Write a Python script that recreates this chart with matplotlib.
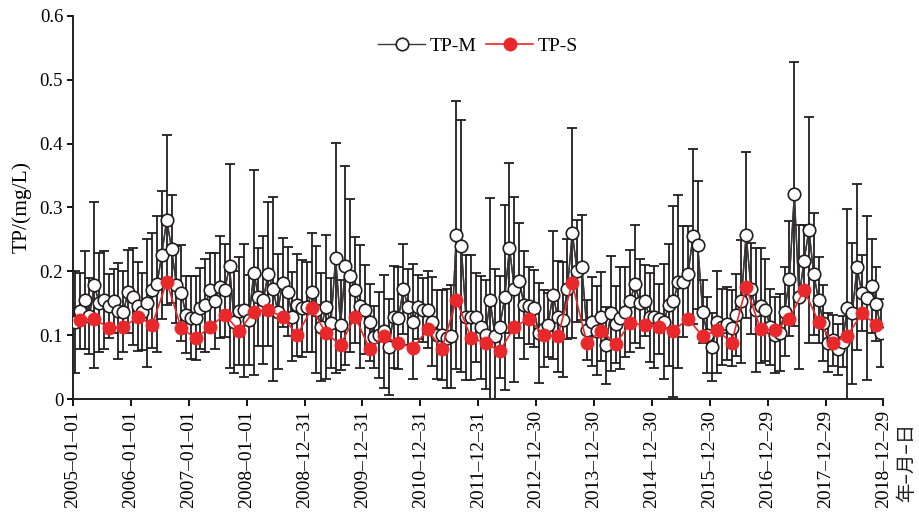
import numpy as np
import pandas as pd
import matplotlib
matplotlib.use("Agg")
import matplotlib.pyplot as plt
import matplotlib.dates as mdates
from matplotlib.ticker import FixedLocator, FuncFormatter

# ---------------- data ----------------
years = list(range(2005, 2019))

tp_m_mean = [
    0.121, 0.138, 0.155, 0.130, 0.178, 0.151, 0.155, 0.145, 0.153, 0.138, 0.137, 0.168,  # 2005
    0.160, 0.145, 0.137, 0.150, 0.170, 0.180, 0.226, 0.281, 0.235, 0.179, 0.166, 0.132,  # 2006
    0.127, 0.127, 0.142, 0.147, 0.170, 0.153, 0.176, 0.170, 0.208, 0.120, 0.138, 0.139,  # 2007
    0.124, 0.198, 0.160, 0.155, 0.196, 0.173, 0.137, 0.182, 0.168, 0.129, 0.147, 0.142,  # 2008
    0.144, 0.167, 0.140, 0.113, 0.144, 0.119, 0.221, 0.116, 0.209, 0.193, 0.170, 0.145,  # 2009
    0.140, 0.120, 0.097, 0.100, 0.106, 0.082, 0.129, 0.127, 0.172, 0.144, 0.121, 0.144,  # 2010
    0.140, 0.140, 0.121, 0.101, 0.100, 0.095, 0.098, 0.257, 0.240, 0.128, 0.128, 0.128,  # 2011
    0.112, 0.101, 0.155, 0.098, 0.113, 0.159, 0.237, 0.172, 0.185, 0.147, 0.146, 0.142,  # 2012
    0.103, 0.110, 0.116, 0.163, 0.129, 0.124, 0.172, 0.260, 0.200, 0.206, 0.108, 0.121,  # 2013
    0.107, 0.129, 0.084, 0.134, 0.117, 0.127, 0.136, 0.154, 0.180, 0.150, 0.154, 0.128,  # 2014
    0.129, 0.125, 0.121, 0.147, 0.153, 0.184, 0.184, 0.196, 0.255, 0.241, 0.137, 0.100,  # 2015
    0.081, 0.121, 0.113, 0.118, 0.111, 0.132, 0.153, 0.257, 0.173, 0.139, 0.146, 0.140,  # 2016
    0.113, 0.100, 0.104, 0.137, 0.188, 0.321, 0.160, 0.216, 0.265, 0.196, 0.155, 0.119,  # 2017
    0.088, 0.092, 0.078, 0.090, 0.142, 0.134, 0.206, 0.166, 0.158, 0.177, 0.149, 0.103,  # 2018
]

tp_m_sd = [
    0.080, 0.060, 0.077, 0.060, 0.130, 0.077, 0.077, 0.050, 0.050, 0.075, 0.063, 0.065,
    0.076, 0.070, 0.060, 0.100, 0.090, 0.106, 0.100, 0.133, 0.085, 0.060, 0.075, 0.060,
    0.065, 0.066, 0.063, 0.073, 0.058, 0.075, 0.080, 0.073, 0.160, 0.080, 0.085, 0.104,
    0.070, 0.160, 0.077, 0.100, 0.113, 0.144, 0.090, 0.070, 0.070, 0.070, 0.080, 0.076,
    0.070, 0.093, 0.100, 0.085, 0.113, 0.070, 0.180, 0.070, 0.156, 0.120, 0.083, 0.096,
    0.070, 0.060, 0.048, 0.067, 0.088, 0.075, 0.080, 0.080, 0.070, 0.060, 0.090, 0.050,
    0.050, 0.060, 0.070, 0.070, 0.070, 0.077, 0.080, 0.210, 0.197, 0.098, 0.098, 0.070,
    0.080, 0.085, 0.160, 0.105, 0.080, 0.145, 0.133, 0.145, 0.090, 0.085, 0.060, 0.060,
    0.078, 0.060, 0.050, 0.100, 0.087, 0.090, 0.078, 0.165, 0.080, 0.082, 0.047, 0.070,
    0.070, 0.070, 0.060, 0.090, 0.060, 0.080, 0.070, 0.080, 0.092, 0.070, 0.056, 0.070,
    0.080, 0.055, 0.090, 0.096, 0.150, 0.136, 0.087, 0.075, 0.137, 0.100, 0.050, 0.060,
    0.053, 0.080, 0.060, 0.057, 0.060, 0.064, 0.096, 0.130, 0.071, 0.097, 0.090, 0.080,
    0.060, 0.060, 0.060, 0.070, 0.090, 0.206, 0.113, 0.057, 0.177, 0.095, 0.068, 0.060,
    0.046, 0.040, 0.040, 0.040, 0.155, 0.110, 0.130, 0.060, 0.128, 0.074, 0.058, 0.053,
]

tp_s = [
    0.124, 0.126, 0.111, 0.112,
    0.129, 0.116, 0.183, 0.111,
    0.095, 0.113, 0.132, 0.107,
    0.137, 0.139, 0.129, 0.100,
    0.142, 0.103, 0.085, 0.129,
    0.078, 0.098, 0.088, 0.080,
    0.109, 0.078, 0.155, 0.096,
    0.088, 0.075, 0.113, 0.126,
    0.100, 0.098, 0.181, 0.088,
    0.107, 0.086, 0.119, 0.116,
    0.113, 0.107, 0.126, 0.098,
    0.108, 0.088, 0.175, 0.109,
    0.108, 0.126, 0.171, 0.121,
    0.088, 0.099, 0.134, 0.116,
]

tick_labels = ["2005-01-01", "2006-01-01", "2007-01-01", "2008-01-01", "2008-12-31",
               "2009-12-31", "2010-12-31", "2011-12-31", "2012-12-30", "2013-12-30",
               "2014-12-30", "2015-12-30", "2016-12-29", "2017-12-29", "2018-12-29"]
y_ticks = [0, 0.1, 0.2, 0.3, 0.4, 0.5, 0.6]

# dates: monthly samples at mid-month, seasonal values at mid-season
month_dates = pd.date_range("2005-01-01", periods=len(tp_m_mean), freq="MS") + pd.Timedelta(days=14)
season_dates = pd.date_range("2005-02-01", periods=len(tp_s), freq="3MS") + pd.Timedelta(days=14)
tick_dates = pd.to_datetime(tick_labels)

# ---------------- plot ----------------
plt.rcParams["font.family"] = ["Liberation Serif", "DejaVu Serif"]
plt.rcParams["mathtext.fontset"] = "stix"

fig = plt.figure(figsize=(9.2, 5.15), dpi=100)
ax = fig.add_axes([0.0793, 0.2252, 0.881, 0.744])

dark = "#231f20"
red = "#e8282b"

ax.errorbar(month_dates, tp_m_mean, yerr=tp_m_sd, fmt="-", color=dark, lw=1.0,
            ecolor=dark, elinewidth=1.3, capsize=3.4, capthick=1.3, zorder=2)
ax.plot(month_dates, tp_m_mean, "-", color="#3a3a3a", lw=1.0, marker="o", ms=9,
        mfc="white", mec=dark, mew=1.2, zorder=3, label="TP-M")
ax.plot(season_dates, tp_s, "-", color=red, lw=1.2, marker="o", ms=9.5,
        mfc=red, mec=red, mew=0.5, zorder=4, label="TP-S")

ax.set_xlim(tick_dates[0], tick_dates[-1])
ax.set_ylim(0, 0.6)
ax.xaxis.set_major_locator(FixedLocator(mdates.date2num(tick_dates)))
ax.set_xticklabels([t.replace("-", "–") for t in tick_labels], rotation=90, fontsize=14)
ax.set_yticks(y_ticks)
ax.yaxis.set_major_formatter(FuncFormatter(lambda v, p: "0" if v == 0 else f"{v:.1f}"))
ax.tick_params(axis="y", labelsize=13.5, direction="out", length=4, width=1.3, pad=3)
ax.tick_params(axis="x", direction="out", length=5, width=1.3, pad=3)

for s in ["top", "right"]:
    ax.spines[s].set_visible(False)
for s in ["left", "bottom"]:
    ax.spines[s].set_linewidth(1.4)
    ax.spines[s].set_color(dark)

ax.set_ylabel("TP/(mg/L)", fontsize=15.5, labelpad=6)

leg = ax.legend(loc="upper center", bbox_to_anchor=(0.5, 0.99), ncol=2, frameon=False,
                fontsize=14, handlelength=2.4, columnspacing=0.5, handletextpad=0.25)

fig.text(0.985, 0.103, "年–月–日", rotation=90, ha="center", va="center", fontsize=14,
         family=["Noto Sans CJK SC", "DejaVu Sans"], color=dark)

fig.savefig("out.png", dpi=100)
